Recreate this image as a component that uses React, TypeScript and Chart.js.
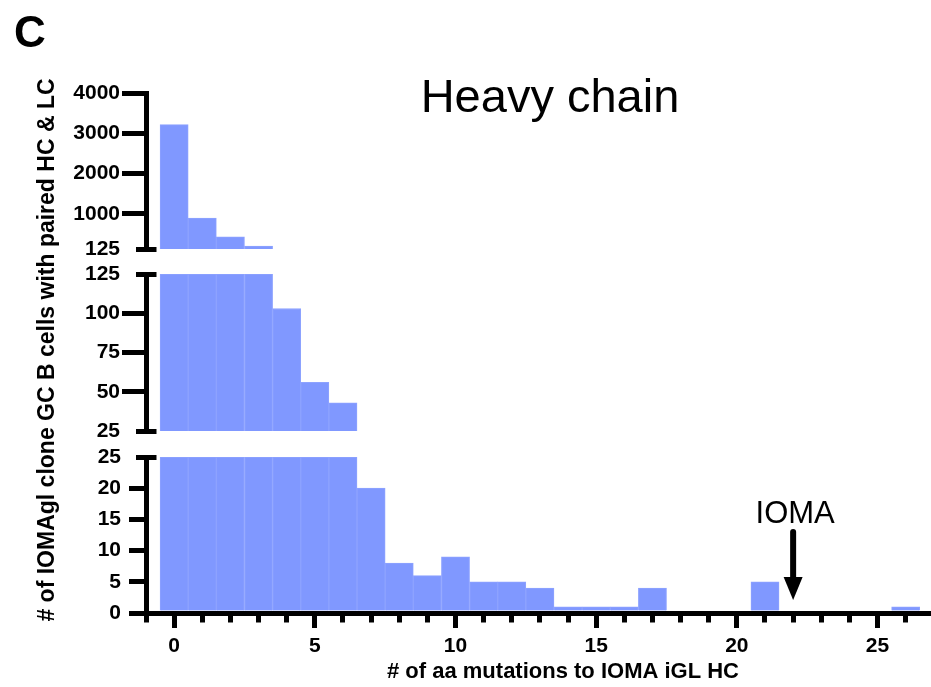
import React, { useEffect, useRef } from 'react';
import { Chart, registerables } from 'chart.js';

Chart.register(...registerables);

const FONT = "'Liberation Sans', Arial, Helvetica, sans-serif";

// ---- data ----
const mutations = [0, 1, 2, 3, 4, 5, 6, 7, 8, 9, 10, 11, 12, 13, 14, 15, 16, 17, 18, 19, 20, 21, 22, 23, 24, 25, 26];
const cellCounts = [3215, 890, 425, 200, 103, 56, 43, 20, 8, 6, 9, 5, 5, 4, 1, 1, 1, 4, 0, 0, 0, 5, 0, 0, 0, 0, 1];

// broken y-axis segments [min, max]
const topSegment = [125, 4000];
const midSegment = [25, 125];
const lowSegment = [0, 25];
const topTicks = [125, 1000, 2000, 3000, 4000];
const midTicks = [25, 50, 75, 100, 125];
const lowTicks = [0, 5, 10, 15, 20, 25];

const xRange = [-1, 26.9];
const xMajorTicks = [0, 5, 10, 15, 20, 25];

const PANEL_LABEL = 'C';
const TITLE = 'Heavy chain';
const X_TITLE = '# of aa mutations to IOMA iGL HC';
const Y_TITLE = '# of IOMAgl clone GC B cells with paired HC & LC';
const IOMA_LABEL = 'IOMA';
const IOMA_X = 22;
const IOMA_ARROW_FROM = 13; // in low-segment units
const IOMA_ARROW_TO = 2.1;
const IOMA_LABEL_Y = 14.4;

const BAR_FILL = '#8098FF';
const BAR_EDGE = '#8EA3FF';

const annotationPlugin = {
  id: 'panelAnnotations',
  afterDraw(chart: any) {
    const { ctx } = chart;
    const xs = chart.scales.x;
    const yl = chart.scales.yLow;
    ctx.save();
    ctx.fillStyle = '#000';
    ctx.textBaseline = 'alphabetic';

    ctx.font = `bold 44px ${FONT}`;
    ctx.textAlign = 'left';
    ctx.fillText(PANEL_LABEL, 14, 47);

    ctx.font = `47px ${FONT}`;
    ctx.textAlign = 'center';
    ctx.fillText(TITLE, 550, 112);

    ctx.font = `bold 22px ${FONT}`;
    ctx.fillText(X_TITLE, 563, 678);

    ctx.save();
    ctx.translate(48, 350);
    ctx.rotate(-Math.PI / 2);
    ctx.textBaseline = 'middle';
    ctx.font = `bold 23px ${FONT}`;
    ctx.fillText(Y_TITLE, 0, 0);
    ctx.restore();

    const ax = xs.getPixelForValue(IOMA_X);
    ctx.font = `31px ${FONT}`;
    ctx.fillText(IOMA_LABEL, ax + 2, yl.getPixelForValue(IOMA_LABEL_Y));

    const yFrom = yl.getPixelForValue(IOMA_ARROW_FROM);
    const yTip = yl.getPixelForValue(IOMA_ARROW_TO);
    const headH = 23;
    const headW = 19;
    ctx.strokeStyle = '#000';
    ctx.lineWidth = 6;
    ctx.lineCap = 'round';
    ctx.beginPath();
    ctx.moveTo(ax, yFrom);
    ctx.lineTo(ax, yTip - headH + 2);
    ctx.stroke();
    ctx.beginPath();
    ctx.moveTo(ax - headW / 2, yTip - headH);
    ctx.lineTo(ax + headW / 2, yTip - headH);
    ctx.lineTo(ax, yTip);
    ctx.closePath();
    ctx.fill();
    ctx.restore();
  },
};

const tickFont = { family: FONT, size: 21, weight: 'bold' as const };

function segmentAxis(opts: {
  range: number[];
  ticks: number[];
  capValues: number[];
  weight: number;
  stackWeight: number;
  tickLength: number;
  labelPadding: number;
}) {
  const { range, ticks, capValues, weight, stackWeight, tickLength, labelPadding } = opts;
  const isCap = (c: any) => !!(c && c.tick && capValues.includes(c.tick.value));
  const gap = tickLength - 2.5 - 7.5;
  return {
    type: 'linear',
    position: 'left',
    stack: 'ystack',
    stackWeight,
    weight,
    min: range[0],
    max: range[1],
    beginAtZero: false,
    z: 1,
    afterBuildTicks: (s: any) => {
      s.ticks = ticks.map((v) => ({ value: v }));
    },
    afterFit: (s: any) => {
      s.width = 80;
    },
    ticks: {
      autoSkip: false,
      color: '#000',
      font: tickFont,
      padding: labelPadding,
      callback: (v: any) => String(v),
    },
    grid: {
      display: true,
      drawOnChartArea: true,
      drawTicks: true,
      tickLength,
      tickWidth: 5,
      tickColor: '#000',
      tickBorderDash: (c: any) => (isCap(c) ? [40, gap] : []),
      tickBorderDashOffset: (c: any) => (isCap(c) ? 40 : 0),
      color: (c: any) => (isCap(c) ? '#000' : 'rgba(0,0,0,0)'),
      lineWidth: 5,
    },
    border: {
      display: true,
      width: 5,
      color: '#000',
      dash: (c: any) => (isCap(c) ? [7.5, 5000] : []),
      dashOffset: 0,
    },
  };
}

function gapAxis(weight: number, stackWeight: number) {
  return {
    type: 'linear',
    position: 'left',
    stack: 'ystack',
    stackWeight,
    weight,
    min: 0,
    max: 1,
    display: true,
    afterFit: (s: any) => {
      s.width = 80;
    },
    ticks: { display: false },
    grid: { display: false },
    border: { display: false },
  };
}

export default function App() {
  const canvasRef = useRef<HTMLCanvasElement | null>(null);

  useEffect(() => {
    document.body.style.margin = '0';
    const canvas = canvasRef.current;
    if (!canvas) return;
    Chart.defaults.font.family = FONT;

    const lowData = mutations.map((m, i) => ({
      x: m,
      y: cellCounts[i] > 0 ? Math.min(cellCounts[i], lowSegment[1]) : null,
    }));
    const midData = mutations.map((m, i) => ({
      x: m,
      y: cellCounts[i] > midSegment[0] ? Math.min(cellCounts[i], midSegment[1]) : null,
    }));
    const topData = mutations.map((m, i) => ({
      x: m,
      y: cellCounts[i] > topSegment[0] ? Math.min(cellCounts[i], topSegment[1]) : null,
    }));

    const barStyle = {
      backgroundColor: BAR_FILL,
      borderColor: BAR_EDGE,
      borderWidth: 1,
      barPercentage: 1,
      categoryPercentage: 1,
      grouped: false,
      xAxisID: 'x',
    };

    const chart = new Chart(canvas, {
      type: 'bar',
      data: {
        datasets: [
          { ...barStyle, label: 'top', data: topData, yAxisID: 'yTop' },
          { ...barStyle, label: 'mid', data: midData, yAxisID: 'yMid' },
          { ...barStyle, label: 'low', data: lowData, yAxisID: 'yLow' },
        ] as any,
      },
      options: {
        responsive: false,
        animation: false,
        devicePixelRatio: 1,
        layout: { padding: { left: 66, top: 93, right: 0, bottom: 24 } },
        plugins: { legend: { display: false }, tooltip: { enabled: false }, title: { display: false } },
        scales: {
          x: {
            type: 'linear',
            position: 'bottom',
            min: xRange[0],
            max: xRange[1],
            offset: false,
            z: 1,
            afterFit: (s: any) => {
              s.height = 50;
            },
            ticks: {
              stepSize: 1,
              includeBounds: false,
              autoSkip: false,
              maxRotation: 0,
              minRotation: 0,
              padding: 6,
              color: '#000',
              font: tickFont,
              callback: (v: any) => (xMajorTicks.includes(Number(v)) ? String(v) : ''),
            },
            grid: {
              offset: false,
              drawOnChartArea: false,
              tickLength: 15,
              tickWidth: 5,
              tickColor: '#000',
              tickBorderDash: (c: any) => (c.tick && xMajorTicks.includes(c.tick.value) ? [] : [6.5, 100]),
            },
            border: { display: true, width: 5, color: '#000' },
          },
          yTop: segmentAxis({ range: topSegment, ticks: topTicks, capValues: [125], weight: 5, stackWeight: 156, tickLength: 24, labelPadding: 2 }),
          yGap1: gapAxis(4, 25),
          yMid: segmentAxis({ range: midSegment, ticks: midTicks, capValues: [25, 125], weight: 3, stackWeight: 157, tickLength: 24, labelPadding: 2 }),
          yGap2: gapAxis(2, 26),
          yLow: segmentAxis({ range: lowSegment, ticks: lowTicks, capValues: [25], weight: 1, stackWeight: 156, tickLength: 17, labelPadding: 8 }),
        } as any,
      },
      plugins: [annotationPlugin],
    } as any);

    return () => chart.destroy();
  }, []);

  return (
    <div style={{ width: 931, height: 687, background: '#fff' }}>
      <canvas ref={canvasRef} width={931} height={687} style={{ display: 'block' }} />
    </div>
  );
}
